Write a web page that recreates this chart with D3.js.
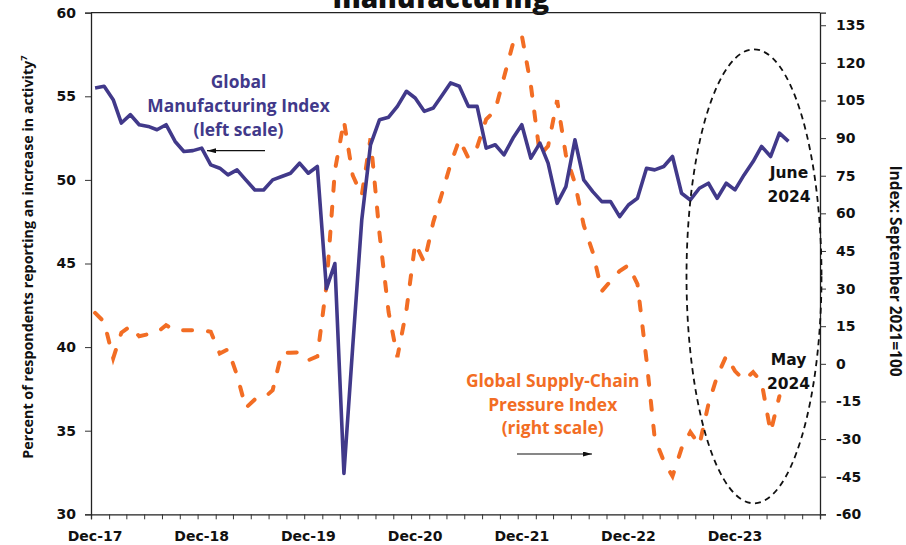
<!DOCTYPE html>
<html><head><meta charset="utf-8">
<script src="https://cdn.jsdelivr.net/npm/d3@7"></script>
<style>body{margin:0;background:#fff}svg{display:block}</style>
</head><body>
<svg id="chart" width="906" height="545"></svg>
<script>
// ---- data ----
const firstMonth = "2017-12";
const manufacturing = [
55.5,55.6,54.8,53.4,53.9,53.3,53.2,53.0,53.3,52.3,51.7,51.75,
51.9,50.9,50.7,50.3,50.6,50.0,49.4,49.4,50.0,50.2,50.4,51.0,
50.4,50.8,43.5,45.0,32.45,40.0,47.6,52.1,53.6,53.75,54.4,55.3,
54.9,54.1,54.3,55.0,55.8,55.6,54.4,54.4,51.9,52.1,51.5,52.5,
53.3,51.3,52.2,51.0,48.6,49.6,52.4,50.0,49.3,48.7,48.7,47.8,
48.5,48.9,50.7,50.6,50.8,51.4,49.2,48.8,49.5,49.8,48.9,49.8,
49.4,50.3,51.1,52.0,51.4,52.8,52.3];
const supplyChain = [
20.3,16.7,2.2,12.4,15.0,11.0,11.8,12.5,15.4,13.2,13.4,13.4,
13.4,12.8,4.1,5.8,-4.5,-17.6,-14.2,-13.8,-10.5,4.4,4.4,4.6,
1.4,3.0,31.0,77.0,96.9,75.2,67.2,89.9,51.7,20.6,2.7,21.4,
48.1,40.5,56.5,67.2,79.6,89.4,82.1,86.4,97.5,101.1,114.3,127.8,
131.0,111.1,83.2,86.8,105.1,83.2,72.0,55.3,44.5,29.0,33.0,37.0,
39.3,31.8,1.5,-29.6,-38.8,-44.8,-33.7,-27.2,-32.4,-16.1,-4.9,3.1,
-2.9,-6.5,-3.3,-7.3,-27.2,-12.9];
const leftTicks = [30,35,40,45,50,55,60];
const rightTicks = [-60,-45,-30,-15,0,15,30,45,60,75,90,105,120,135];
const xTickLabels = ["Dec-17","Dec-18","Dec-19","Dec-20","Dec-21","Dec-22","Dec-23"];
const titleText = "manufacturing";
const mfgLabel = ["Global","Manufacturing Index","(left scale)"];
const scpLabel = ["Global Supply-Chain","Pressure Index","(right scale)"];
const juneLabel = ["June","2024"];
const mayLabel = ["May","2024"];
const leftTitle = "Percent of respondents reporting an increase in activity";
const rightTitle = "Index: September 2021=100";

// ---- setup ----
const purple = "#41398A", orange = "#F26D24";
const svg = d3.select("#chart");
const M = {l:91, r:820, t:12.7, b:514.3};
const parse = d3.utcParse("%Y-%m");
const start = parse(firstMonth);
const end = d3.utcMonth.offset(start, 82);
const x = d3.scaleUtc().domain([start, end]).range([M.l, M.r]);
const yL = d3.scaleLinear().domain([30, 60]).range([M.b, M.t]);
const yR = d3.scaleLinear().domain([-60, 140]).range([M.b, M.t]);
const mid = i => d3.utcDay.offset(d3.utcMonth.offset(start, i), 14);

const tickFont = "'DejaVu Sans', sans-serif";
const labFont = "'Open Sans', sans-serif";

// title (cut off at top, as in the source image)
svg.append("text").attr("x", 441).attr("y", 8)
  .attr("text-anchor","middle").attr("font-family", labFont)
  .attr("font-weight", 800).attr("font-size", 28).attr("fill","#111")
  .text(titleText);

// frame
svg.append("line").attr("x1",M.l).attr("x2",M.r).attr("y1",M.t).attr("y2",M.t)
  .attr("stroke","#222").attr("stroke-width",1.3);

// x axis
const xTicks = d3.range(0, 83, 2).map(k => d3.utcMonth.offset(start, k));
const gx = svg.append("g").attr("transform",`translate(0,${M.b})`)
  .call(d3.axisBottom(x).tickValues(xTicks).tickSize(5).tickFormat(""));
gx.select(".domain").attr("stroke","#222").attr("stroke-width",1.3);
gx.selectAll(".tick line").attr("stroke","#333");
svg.append("g").selectAll("text").data(xTickLabels).join("text")
  .attr("x",(d,i)=>x(mid(i*12))).attr("y",540.5)
  .attr("text-anchor","middle").attr("font-family",tickFont)
  .attr("font-weight","bold").attr("font-size",14).attr("fill","#111").text(d=>d);

// left axis
const gl = svg.append("g").attr("transform",`translate(${M.l},0)`)
  .call(d3.axisLeft(yL).tickValues(leftTicks).tickSize(6).tickPadding(9));
gl.select(".domain").attr("stroke","#222").attr("stroke-width",1.3);
gl.selectAll(".tick line").attr("stroke","#333");
gl.selectAll(".tick text").attr("font-family",tickFont).attr("font-weight","bold")
  .attr("font-size",14).attr("fill","#111");

// right axis
const gr = svg.append("g").attr("transform",`translate(${M.r},0)`)
  .call(d3.axisRight(yR).tickValues(rightTicks).tickSize(6).tickPadding(10)
    .tickFormat(d => d < 0 ? "-" + Math.abs(d) : d));
gr.select(".domain").attr("stroke","#222").attr("stroke-width",1.3);
gr.selectAll(".tick line").attr("stroke","#333");
gr.selectAll(".tick text").attr("font-family",tickFont).attr("font-weight","bold")
  .attr("font-size",14).attr("fill","#111");

// axis titles
const lt = svg.append("text").attr("transform","translate(33,257) rotate(-90)")
  .attr("text-anchor","middle").attr("font-family",labFont).attr("font-weight",700)
  .attr("font-size",14.3).attr("fill","#111");
lt.append("tspan").text(leftTitle);
lt.append("tspan").attr("font-size",9.5).attr("dy",-6).text("7");
svg.append("text").attr("transform","translate(890,271) rotate(90)")
  .attr("text-anchor","middle").attr("font-family",labFont).attr("font-weight",700)
  .attr("font-size",15.5).attr("fill","#111").text(rightTitle);

// lines
const lineL = d3.line().x((d,i)=>x(mid(i))).y(d=>yL(d));
const lineR = d3.line().x((d,i)=>x(mid(i))).y(d=>yR(d));
svg.append("path").datum(supplyChain).attr("d",lineR).attr("fill","none")
  .attr("stroke",orange).attr("stroke-width",4).attr("stroke-dasharray","9,16")
  .attr("stroke-linecap","round");
svg.append("path").datum(manufacturing).attr("d",lineL).attr("fill","none")
  .attr("stroke",purple).attr("stroke-width",3.6).attr("stroke-linejoin","round");

// ellipse
svg.append("ellipse").attr("cx",754).attr("cy",276.3).attr("rx",67.5).attr("ry",227)
  .attr("fill","none").attr("stroke","#111").attr("stroke-width",1.8)
  .attr("stroke-dasharray","6,4.5");

// labels
function block(lines, cx, y0, dy, color, font, size){
  svg.append("g").selectAll("text").data(lines).join("text")
    .attr("x",cx).attr("y",(d,i)=>y0+i*dy).attr("text-anchor","middle")
    .attr("font-family",font).attr("font-weight",700).attr("font-size",size)
    .attr("fill",color).text(d=>d);
}
block(mfgLabel, 238.5, 87.5, 24, purple, labFont, 17.4);
block(scpLabel, 552.7, 386.7, 23.8, orange, labFont, 17.4);
block(juneLabel, 789, 178, 23.7, "#111", tickFont, 15.5);
block(mayLabel, 788.5, 365, 24.3, "#111", tickFont, 15.5);

// arrows
const defs = svg.append("defs");
defs.append("marker").attr("id","ah").attr("viewBox","0 0 10 10").attr("refX",10).attr("refY",5)
  .attr("markerWidth",9).attr("markerHeight",5).attr("markerUnits","userSpaceOnUse")
  .attr("orient","auto").attr("preserveAspectRatio","none")
  .append("path").attr("d","M0,0L10,5L0,10Z").attr("fill","#111");
svg.append("line").attr("x1",265).attr("x2",207).attr("y1",150.7).attr("y2",150.7)
  .attr("stroke","#111").attr("stroke-width",1.2).attr("marker-end","url(#ah)");
svg.append("line").attr("x1",517).attr("x2",592).attr("y1",454).attr("y2",454)
  .attr("stroke","#111").attr("stroke-width",1.2).attr("marker-end","url(#ah)");
</script>
</body></html>
